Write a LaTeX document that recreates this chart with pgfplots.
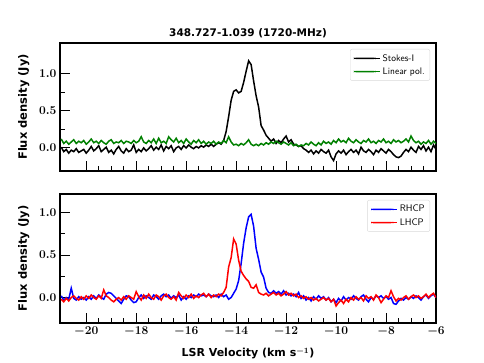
\documentclass[border=0pt]{standalone}
\usepackage{fontspec}
\usepackage{pgfplots}
\usepackage{pgfplotstable}
\pgfplotsset{compat=1.18}
\newfontfamily\dejavu{DejaVu Sans}

% v = LSR velocity, I = Stokes-I, L = linear pol., R = RHCP, LH = LHCP
\pgfplotstableread{
v I L R LH
-21.0 0.01 0.12 0.02 -0.02
-20.9 -0.05 0.06 -0.03 -0.05
-20.8 -0.02 0.09 0.00 -0.01
-20.7 -0.07 0.05 -0.02 -0.04
-20.6 -0.03 0.08 0.11 0.00
-20.5 -0.05 0.11 -0.01 0.02
-20.4 -0.01 0.06 -0.03 -0.01
-20.3 -0.06 0.09 0.01 -0.03
-20.2 -0.04 0.07 -0.02 0.01
-20.1 -0.02 0.10 0.00 -0.02
-20.0 -0.07 0.05 -0.03 0.02
-19.9 -0.03 0.08 0.01 -0.01
-19.8 0.02 0.12 -0.02 0.03
-19.7 -0.04 0.07 0.02 0.00
-19.6 -0.01 0.09 -0.01 -0.02
-19.5 0.03 0.06 0.03 0.02
-19.4 -0.05 0.10 0.00 -0.01
-19.3 -0.02 0.07 -0.02 0.09
-19.2 0.01 0.05 0.04 0.02
-19.1 -0.06 0.09 0.06 0.00
-19.0 -0.03 0.11 0.05 -0.03
-18.9 -0.08 0.06 0.02 -0.05
-18.8 -0.02 0.08 -0.01 -0.02
-18.7 0.02 0.07 -0.04 0.00
-18.6 -0.04 0.10 -0.07 -0.03
-18.5 -0.07 0.06 -0.02 0.01
-18.4 -0.01 0.09 0.02 -0.02
-18.3 -0.05 0.08 0.01 0.02
-18.2 -0.03 0.06 -0.03 0.00
-18.1 0.04 0.10 -0.06 -0.02
-18.0 -0.06 0.07 -0.05 0.07
-17.9 -0.02 0.09 0.00 0.01
-17.8 -0.05 0.15 0.03 -0.03
-17.7 0.00 0.08 -0.01 0.03
-17.6 -0.04 0.06 0.02 -0.01
-17.5 -0.01 0.10 0.00 0.04
-17.4 0.03 0.07 -0.02 0.00
-17.3 -0.03 0.12 0.03 -0.02
-17.2 0.01 0.06 0.01 0.03
-17.1 -0.02 0.13 -0.02 0.01
-17.0 0.04 0.07 0.02 -0.03
-16.9 -0.04 0.09 0.04 0.02
-16.8 0.02 0.06 0.01 0.04
-16.7 -0.01 0.15 0.03 0.00
-16.6 0.03 0.11 -0.01 -0.02
-16.5 -0.05 0.08 0.02 0.01
-16.4 0.00 0.13 0.00 -0.03
-16.3 0.02 0.07 0.03 0.06
-16.2 -0.02 0.10 -0.03 0.02
-16.1 0.03 0.06 0.01 -0.01
-16.0 0.00 0.12 -0.02 0.03
-15.9 0.04 0.08 0.02 0.00
-15.8 0.01 0.05 0.00 0.04
-15.7 -0.01 0.10 0.03 -0.01
-15.6 0.02 0.07 0.01 0.02
-15.5 0.00 0.11 0.04 0.00
-15.4 0.03 0.06 0.02 0.03
-15.3 0.01 0.09 0.03 0.05
-15.2 0.04 0.05 0.01 0.01
-15.1 0.02 0.08 0.04 0.04
-15.0 0.05 0.06 0.02 0.00
-14.9 0.02 0.09 0.01 0.03
-14.8 0.05 0.05 0.03 0.01
-14.7 0.07 0.08 0.00 0.04
-14.6 0.05 0.06 0.04 0.02
-14.5 0.10 0.10 0.01 0.06
-14.4 0.22 0.07 0.03 0.12
-14.3 0.42 0.15 -0.02 0.36
-14.2 0.64 0.08 0.00 0.47
-14.1 0.76 0.04 0.05 0.69
-14.0 0.78 0.05 0.10 0.63
-13.9 0.74 0.03 0.20 0.44
-13.8 0.76 0.06 0.40 0.31
-13.7 0.88 0.04 0.64 0.26
-13.6 1.03 0.07 0.82 0.22
-13.5 1.17 0.11 0.95 0.19
-13.4 1.12 0.05 0.98 0.12
-13.3 0.90 0.03 0.84 0.11
-13.2 0.70 0.05 0.58 0.15
-13.1 0.55 0.03 0.45 0.06
-13.0 0.30 0.06 0.30 0.04
-12.9 0.24 0.04 0.24 0.03
-12.8 0.17 0.07 0.11 0.05
-12.7 0.13 0.05 0.06 0.02
-12.6 0.09 0.08 0.05 0.04
-12.5 0.12 0.06 0.08 0.06
-12.4 0.06 0.09 0.05 0.03
-12.3 0.10 0.07 0.07 0.05
-12.2 0.07 0.05 0.04 0.02
-12.1 0.12 0.08 0.08 0.04
-12.0 0.16 0.06 0.03 0.07
-11.9 0.08 0.04 0.05 0.03
-11.8 0.11 0.07 0.02 0.05
-11.7 0.05 0.03 0.04 0.02
-11.6 0.04 0.05 0.01 0.04
-11.5 0.02 0.02 0.06 0.00
-11.4 0.03 0.04 -0.01 0.02
-11.3 -0.01 0.03 0.02 -0.01
-11.2 -0.03 0.06 -0.03 0.01
-11.1 -0.06 0.04 0.00 -0.02
-11.0 -0.03 0.08 -0.04 0.00
-10.9 -0.08 0.05 0.01 -0.03
-10.8 -0.04 0.03 -0.02 -0.01
-10.7 -0.07 0.07 0.02 -0.04
-10.6 -0.02 0.04 -0.01 -0.02
-10.5 -0.05 0.09 0.01 0.00
-10.4 -0.07 0.06 -0.03 -0.03
-10.3 -0.03 0.08 0.00 -0.01
-10.2 -0.12 0.05 -0.05 -0.05
-10.1 -0.17 0.10 -0.02 -0.02
-10.0 -0.08 0.07 -0.06 -0.10
-9.9 -0.04 0.12 -0.01 -0.06
-9.8 -0.07 0.08 -0.04 -0.03
-9.7 -0.03 0.10 0.01 -0.07
-9.6 -0.09 0.07 -0.03 -0.02
-9.5 -0.05 0.13 0.00 -0.05
-9.4 -0.02 0.09 -0.02 0.00
-9.3 -0.06 0.07 0.02 -0.03
-9.2 -0.03 0.11 -0.01 0.01
-9.1 -0.08 0.08 -0.03 -0.02
-9.0 0.01 0.06 0.01 0.00
-8.9 -0.04 0.10 0.03 -0.04
-8.8 -0.06 0.08 -0.02 0.02
-8.7 -0.02 0.12 -0.05 -0.01
-8.6 -0.05 0.07 0.00 0.01
-8.5 -0.09 0.09 -0.02 -0.03
-8.4 -0.03 0.06 0.02 0.03
-8.3 -0.06 0.10 0.00 0.00
-8.2 -0.01 0.08 0.02 -0.06
-8.1 -0.04 0.12 -0.01 -0.02
-8.0 -0.07 0.07 0.01 0.02
-7.9 -0.02 0.09 -0.02 0.00
-7.8 -0.05 0.06 0.00 0.08
-7.7 -0.09 0.11 -0.07 0.01
-7.6 -0.12 0.08 -0.08 -0.04
-7.5 -0.13 0.10 -0.04 -0.01
-7.4 -0.11 0.07 -0.01 -0.03
-7.3 -0.06 0.09 -0.03 0.00
-7.2 -0.02 0.12 0.00 0.02
-7.1 -0.05 0.08 -0.02 -0.02
-7.0 0.01 0.16 0.01 0.01
-6.9 -0.03 0.10 -0.01 0.03
-6.8 -0.06 0.07 0.02 0.00
-6.7 0.02 0.09 0.00 0.02
-6.6 -0.02 0.05 -0.03 -0.01
-6.5 0.03 0.08 0.01 0.01
-6.4 -0.04 0.06 0.03 0.04
-6.3 0.01 0.10 -0.01 0.00
-6.2 -0.05 0.05 0.02 0.03
-6.1 0.04 0.09 0.04 0.05
-6.0 -0.02 0.06 0.00 0.00
}\spec

\definecolor{mplgreen}{RGB}{0,128,0}

\pgfplotsset{
  specaxis/.style={
    scale only axis, width=376pt, height=128pt,
    xmin=-21.05, xmax=-6,
    xtick={-20,-18,...,-6}, minor x tick num=3,
    ytick={0,0.5,1}, minor y tick num=1,
    tick align=inside, xtick pos=lower, ytick pos=left,
    major tick length=10pt, minor tick length=5pt,
    every tick/.style={black, line width=0.9pt},
    axis line style={line width=1.8pt},
    tick label style={font=\fontsize{12.5}{14}\selectfont\boldmath},
    yticklabel style={/pgf/number format/.cd, fixed, fixed zerofill, precision=1},
    ylabel={\dejavu\bfseries Flux density (Jy)},
    ylabel style={font=\fontsize{11.5}{13}\selectfont, yshift=3pt},
    legend cell align=left,
    legend style={at={(1,1)}, anchor=north east, xshift=-6pt, yshift=-6pt,
      draw=black!15, rounded corners=2pt, inner xsep=3pt, inner ysep=3pt,
      row sep=1pt,
      font=\sffamily\fontsize{9.5}{11}\selectfont},
    legend image code/.code={%
      \fill[#1, draw=none] (0pt,-0.75pt) rectangle (22pt,0.75pt);
      \path (0pt,0pt) -- (26pt,0pt);},
    every axis plot/.append style={line width=1.5pt, no markers},
  }
}

\begin{document}
\begin{tikzpicture}
\useasboundingbox (0pt,0pt) rectangle (484pt,-363pt);

\begin{axis}[specaxis, at={(60pt,-43pt)}, anchor=north west,
    ymin=-0.31, ymax=1.41, xticklabels={},
    title={\dejavu\bfseries 348.727-1.039 (1720-MHz)},
    title style={font=\fontsize{10.5}{12}\selectfont, yshift=-4pt}]
\addplot[color=black] table[x=v, y=I] {\spec};
\addlegendentry{Stokes-I}
\addplot[color=mplgreen] table[x=v, y=L] {\spec};
\addlegendentry{Linear pol.}
\end{axis}

\begin{axis}[specaxis, at={(60pt,-194pt)}, anchor=north west, height=129pt,
    ymin=-0.30, ymax=1.22,
    xlabel={\dejavu\bfseries LSR Velocity (km s$^{-1}$)},
    xlabel style={font=\fontsize{11}{13}\selectfont\boldmath, yshift=-5pt}]
\addplot[color=blue] table[x=v, y=R] {\spec};
\addlegendentry{RHCP}
\addplot[color=red] table[x=v, y=LH] {\spec};
\addlegendentry{LHCP}
\end{axis}
\end{tikzpicture}
\end{document}
